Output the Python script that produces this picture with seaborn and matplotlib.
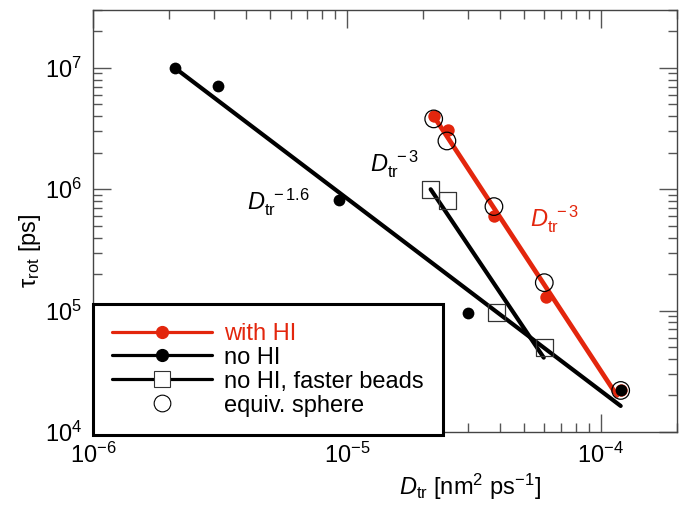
import matplotlib

matplotlib.use("Agg")

import matplotlib.pyplot as plt
import pandas as pd
import seaborn as sns
from matplotlib.lines import Line2D

RED = "#E3260D"

# simulation points (D_tr in nm^2/ps, tau_rot in ps)
d_with_hi = [2.2e-5, 2.5e-5, 3.8e-5, 6.1e-5, 1.2e-4]
tau_with_hi = [4.0e6, 3.1e6, 6.0e5, 1.3e5, 2.2e4]

d_no_hi = [2.1e-6, 3.1e-6, 9.3e-6, 3.0e-5, 1.2e-4]
tau_no_hi = [1.0e7, 7.1e6, 8.1e5, 9.6e4, 2.2e4]

d_fast = [2.14e-5, 2.5e-5, 3.9e-5, 6.0e-5]
tau_fast = [1.0e6, 8.1e5, 9.6e4, 5.0e4]

d_sphere = [2.2e-5, 2.48e-5, 3.8e-5, 6.0e-5, 1.2e-4]
tau_sphere = [3.8e6, 2.5e6, 7.2e5, 1.7e5, 2.2e4]

# power-law fit lines, end points
fit_with_hi_d = [2.2e-5, 1.16e-4]
fit_with_hi_tau = [4.0e6, 2.0e4]
fit_no_hi_d = [2.1e-6, 1.2e-4]
fit_no_hi_tau = [1.0e7, 1.64e4]
fit_fast_d = [2.14e-5, 5.97e-5]
fit_fast_tau = [1.0e6, 4.1e4]

LEGEND_LABELS = ["with HI", "no HI", "no HI, faster beads", "equiv. sphere"]


def setup_style() -> None:
    sns.set_theme(style="ticks")
    plt.rcParams["font.family"] = ["Liberation Sans", "DejaVu Sans"]
    plt.rcParams["mathtext.fontset"] = "custom"
    plt.rcParams["mathtext.rm"] = "Liberation Sans"
    plt.rcParams["mathtext.it"] = "Liberation Sans:italic"
    plt.rcParams["mathtext.bf"] = "Liberation Sans:bold"
    for key in ["text.color", "axes.labelcolor", "xtick.labelcolor", "ytick.labelcolor"]:
        plt.rcParams[key] = "black"


def main() -> None:
    setup_style()
    fig, ax = plt.subplots(figsize=(6.85, 5.2), dpi=100)
    fig.subplots_adjust(left=0.1358, right=0.9883, bottom=0.1692, top=0.9808)
    ax.set_xscale("log")
    ax.set_yscale("log")

    # fit lines
    sns.lineplot(x=fit_with_hi_d, y=fit_with_hi_tau, color=RED, linewidth=3.4, ax=ax, zorder=2)
    sns.lineplot(x=fit_no_hi_d, y=fit_no_hi_tau, color="black", linewidth=3.0, ax=ax, zorder=2)
    sns.lineplot(x=fit_fast_d, y=fit_fast_tau, color="black", linewidth=3.0, ax=ax, zorder=2)

    # data points
    hi = pd.DataFrame({"d": d_with_hi, "tau": tau_with_hi})
    nohi = pd.DataFrame({"d": d_no_hi, "tau": tau_no_hi})
    fast = pd.DataFrame({"d": d_fast, "tau": tau_fast})
    sphere = pd.DataFrame({"d": d_sphere, "tau": tau_sphere})

    sns.scatterplot(data=hi, x="d", y="tau", marker="o", s=80, color=RED,
                    edgecolor=RED, linewidth=0, ax=ax, zorder=3)
    sns.scatterplot(data=nohi, x="d", y="tau", marker="o", s=72, color="black",
                    edgecolor="black", linewidth=0, ax=ax, zorder=4)
    sns.scatterplot(data=fast, x="d", y="tau", marker="s", s=150, facecolor="none",
                    edgecolor="#333333", linewidth=0.9, ax=ax, zorder=4)
    sns.scatterplot(data=sphere, x="d", y="tau", marker="o", s=160, facecolor="none",
                    edgecolor="black", linewidth=0.9, ax=ax, zorder=5)

    ax.set_xlim(1e-6, 2e-4)
    ax.set_ylim(1e4, 3e7)

    # exponent annotations
    ax.text(4.04e-6, 6.8e5, r"$D_{\mathrm{tr}}^{\ -1.6}$", fontsize=17, color="black",
            ha="left", va="baseline")
    ax.text(1.23e-5, 1.41e6, r"$D_{\mathrm{tr}}^{\ -3}$", fontsize=17, color="black",
            ha="left", va="baseline")
    ax.text(5.25e-5, 4.9e5, r"$D_{\mathrm{tr}}^{\ -3}$", fontsize=17, color=RED,
            ha="left", va="baseline")

    ax.set_xlabel(r"$D_{\mathrm{tr}}$ [nm$^2$ ps$^{-1}$]", fontsize=17)
    ax.set_ylabel(r"τ$_{\mathrm{rot}}$ [ps]", fontsize=17)
    ax.xaxis.set_label_coords(0.646, -0.095)
    ax.yaxis.set_label_coords(-0.086, 0.43)

    ax.tick_params(which="both", direction="in", top=True, right=True, color="#555555", width=1.0)
    ax.tick_params(which="major", length=13, labelsize=17, pad=8)
    ax.tick_params(which="minor", length=6.5)
    for spine in ax.spines.values():
        spine.set_color("#444444")
        spine.set_linewidth(1.0)

    handles = [
        Line2D([], [], color=RED, lw=2.3, marker="o", markersize=8.5,
               markerfacecolor=RED, markeredgecolor=RED),
        Line2D([], [], color="black", lw=2.3, marker="o", markersize=8.5),
        Line2D([], [], color="black", lw=2.3, marker="s", markersize=12,
               markerfacecolor="white", markeredgecolor="#333333", markeredgewidth=0.8),
        Line2D([], [], linestyle="none", marker="o", markersize=12,
               markerfacecolor="none", markeredgecolor="black", markeredgewidth=0.8),
    ]
    leg = ax.legend(handles, LEGEND_LABELS, loc="lower left", bbox_to_anchor=(0.0, -0.008),
                    borderaxespad=0, frameon=True, fancybox=False, edgecolor="black",
                    framealpha=1, fontsize=17, handlelength=4.25, handletextpad=0.5,
                    labelspacing=0.08, borderpad=0.8)
    leg.get_frame().set_linewidth(2.2)
    leg.get_texts()[0].set_color(RED)
    leg.set_zorder(10)

    fig.savefig("out.png", dpi=100)
    plt.close(fig)


if __name__ == "__main__":
    main()
